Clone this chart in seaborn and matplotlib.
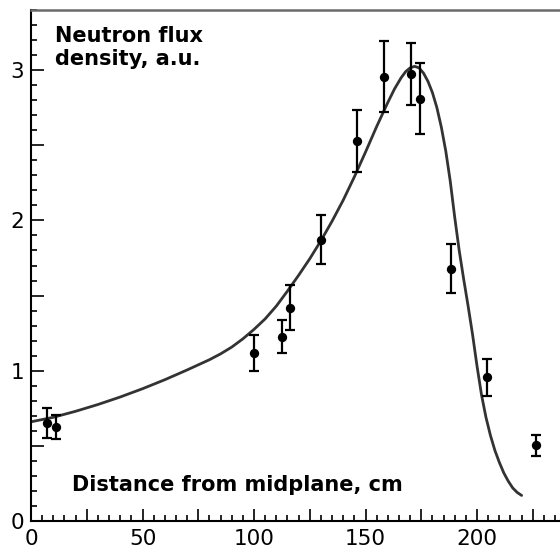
import matplotlib

matplotlib.use("Agg")
import matplotlib.pyplot as plt
import numpy as np
import pandas as pd
import seaborn as sns
from matplotlib.ticker import MultipleLocator

# ──── DATA ───────────────────────────────────────────────────────────────────

# measured points (distance from midplane, cm) with error bars
meas_x = [7.0, 11.2, 100.2, 112.4, 116.1, 129.9, 146.0, 158.3, 170.3, 174.4, 188.2, 204.3, 226.3]
meas_y = [0.653, 0.625, 1.12, 1.225, 1.42, 1.872, 2.527, 2.957, 2.975, 2.81, 1.68, 0.955, 0.503]
meas_err = [0.10, 0.08, 0.12, 0.11, 0.15, 0.165, 0.205, 0.235, 0.205, 0.235, 0.16, 0.12, 0.072]

# calculated flux curve
calc_x = [0, 10, 20, 30, 40, 50, 60, 70, 80, 85, 90, 95, 100, 105, 110, 115, 120, 125, 130,
          135, 140, 145, 150, 155, 160, 163, 166, 168, 170, 172, 174, 176, 178, 180, 182,
          184, 186, 188, 190, 192, 194, 196, 198, 200, 202, 204, 206, 208, 210, 212, 214,
          216, 218, 220]
calc_y = [0.66, 0.69, 0.73, 0.775, 0.825, 0.88, 0.94, 1.005, 1.073, 1.112, 1.157, 1.212,
          1.275, 1.345, 1.43, 1.53, 1.635, 1.745, 1.865, 1.995, 2.135, 2.29, 2.455, 2.625,
          2.785, 2.875, 2.95, 2.99, 3.015, 3.025, 3.015, 2.98, 2.925, 2.85, 2.75, 2.62,
          2.46, 2.26, 2.02, 1.80, 1.61, 1.43, 1.24, 1.03, 0.84, 0.69, 0.57, 0.47, 0.39,
          0.32, 0.265, 0.22, 0.19, 0.17]

curve = pd.DataFrame({"x": calc_x, "y": calc_y})
points = pd.DataFrame({"x": meas_x, "y": meas_y, "err": meas_err})

# ──── PLOT ───────────────────────────────────────────────────────────────────

sns.set_style("ticks")
plt.rcParams["font.family"] = ["DejaVu Sans"]
plt.rcParams["text.color"] = "black"
plt.rcParams["xtick.labelcolor"] = "black"
plt.rcParams["ytick.labelcolor"] = "black"

fig = plt.figure(figsize=(5.6, 5.53), dpi=100)
ax = fig.add_axes([31 / 560, 32 / 553, 529 / 560, 511 / 553])

sns.lineplot(data=curve, x="x", y="y", ax=ax, color="#333333", linewidth=2.0, sort=False)
ax.errorbar(points["x"], points["y"], yerr=points["err"], fmt="none", ecolor="black",
            elinewidth=1.6, capsize=3.3, capthick=1.6, zorder=3)
sns.scatterplot(data=points, x="x", y="y", ax=ax, color="black", s=45, edgecolor="black",
                linewidth=0, zorder=4)

ax.set_xlim(0, 237.2)
ax.set_ylim(0, 3.4)

ax.xaxis.set_major_locator(MultipleLocator(25))
ax.xaxis.set_minor_locator(MultipleLocator(5))
ax.yaxis.set_major_locator(MultipleLocator(0.5))
ax.yaxis.set_minor_locator(MultipleLocator(0.1))
ax.xaxis.set_major_formatter(plt.FuncFormatter(lambda v, p: f"{v:.0f}" if v % 50 == 0 else ""))
ax.yaxis.set_major_formatter(plt.FuncFormatter(lambda v, p: f"{v:.0f}" if v % 1 == 0 else ""))

ax.tick_params(which="both", direction="in", color="black", width=1.2, labelsize=15.5,
               labelcolor="black")
ax.tick_params(which="major", length=9)
ax.tick_params(which="minor", length=4.5)
ax.tick_params(axis="x", pad=6)
ax.tick_params(axis="y", pad=5)

for side in ["left", "bottom"]:
    ax.spines[side].set_color("black")
    ax.spines[side].set_linewidth(1.5)
ax.spines["top"].set_color("#6a6a6a")
ax.spines["top"].set_linewidth(1.8)
ax.spines["right"].set_visible(False)

ax.set_xlabel("")
ax.set_ylabel("")

ax.text(0.045, 0.968, "Neutron flux\ndensity, a.u.", transform=ax.transAxes, ha="left",
        va="top", fontsize=15, fontweight="bold", linespacing=1.15, color="black")
ax.text(0.0775, 0.059, "Distance from midplane, cm", transform=ax.transAxes, ha="left",
        va="baseline", fontsize=15, fontweight="bold", color="black")

fig.savefig("out.png", dpi=100)
